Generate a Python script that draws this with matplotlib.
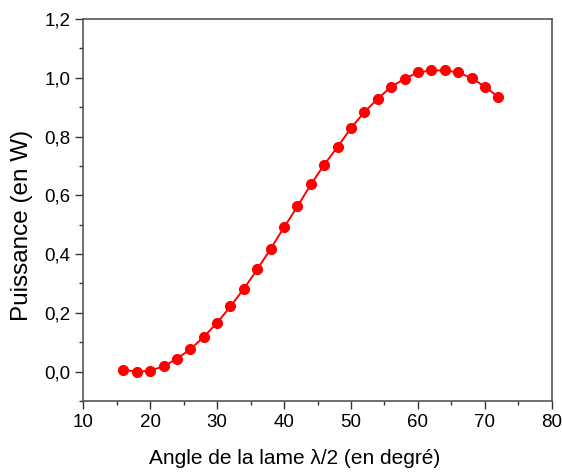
import matplotlib.pyplot as plt
from matplotlib.ticker import MultipleLocator, FuncFormatter

angle = [16, 18, 20, 22, 24, 26, 28, 30, 32, 34, 36, 38, 40, 42, 44,
         46, 48, 50, 52, 54, 56, 58, 60, 62, 64, 66, 68, 70, 72]
puissance = [0.006, 0.0, 0.003, 0.018, 0.044, 0.076, 0.118, 0.166, 0.222,
             0.282, 0.348, 0.418, 0.491, 0.562, 0.637, 0.704, 0.765, 0.829,
             0.883, 0.929, 0.969, 0.997, 1.018, 1.025, 1.025, 1.018, 0.999,
             0.969, 0.935]

plt.rcParams['font.family'] = ['Liberation Sans', 'DejaVu Sans']

fig = plt.figure(figsize=(5.62, 4.74), dpi=100)
ax = fig.add_axes([0.148, 0.154, 0.834, 0.806])

ax.plot(angle, puissance, color='#ff0000', lw=1.4, marker='o', ms=7)

ax.set_xlim(10, 80)
ax.set_ylim(-0.1, 1.2)
ax.xaxis.set_major_locator(MultipleLocator(10))
ax.xaxis.set_minor_locator(MultipleLocator(5))
ax.yaxis.set_major_locator(MultipleLocator(0.2))
ax.yaxis.set_minor_locator(MultipleLocator(0.1))
ax.yaxis.set_major_formatter(FuncFormatter(lambda v, p: f'{v:.1f}'.replace('.', ',').replace('-0,0', '0,0')))

ax.tick_params(which='both', direction='out', color='#333333', width=1, labelsize=13.5)
ax.tick_params(which='major', length=6, pad=3)
ax.tick_params(which='minor', length=3)
for s in ax.spines.values():
    s.set_color('#555555')
    s.set_linewidth(1.2)

ax.set_xlabel('Angle de la lame λ/2 (en degré)', fontsize=15)
ax.set_ylabel('Puissance (en W)', fontsize=17.5)
ax.xaxis.set_label_coords(0.452, -0.125)
ax.yaxis.set_label_coords(-0.107, 0.46)

plt.savefig('out.png', dpi=100)
